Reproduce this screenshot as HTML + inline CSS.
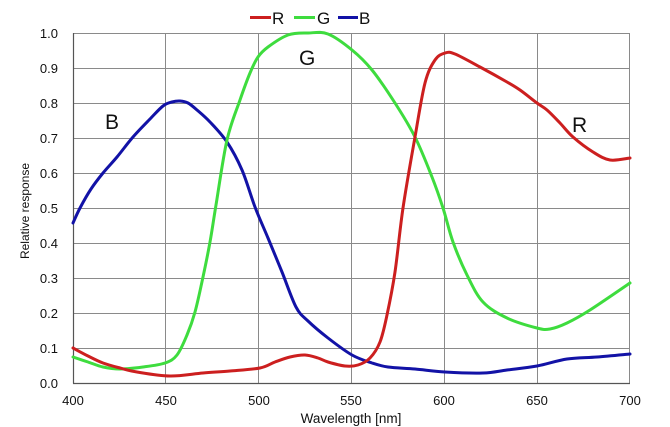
<!DOCTYPE html>
<html>
<head>
<meta charset="utf-8">
<style>
  html, body { margin:0; padding:0; background:#fff; }
  svg { display:block; }
  text { font-family: "Liberation Sans", Arial, sans-serif; fill:#111; }
</style>
</head>
<body>
<svg id="chart" width="670" height="427" viewBox="0 0 670 427" xmlns="http://www.w3.org/2000/svg">
  <rect x="0" y="0" width="670" height="427" fill="#fff"/>
  <!-- grid -->
  <g stroke="#8a8a8a" stroke-width="1" fill="none">
    <line x1="73" y1="33.5" x2="630" y2="33.5"/>
    <line x1="73" y1="68.5" x2="630" y2="68.5"/>
    <line x1="73" y1="103.5" x2="630" y2="103.5"/>
    <line x1="73" y1="138.5" x2="630" y2="138.5"/>
    <line x1="73" y1="173.5" x2="630" y2="173.5"/>
    <line x1="73" y1="208.5" x2="630" y2="208.5"/>
    <line x1="73" y1="243.5" x2="630" y2="243.5"/>
    <line x1="73" y1="278.5" x2="630" y2="278.5"/>
    <line x1="73" y1="313.5" x2="630" y2="313.5"/>
    <line x1="73" y1="348.5" x2="630" y2="348.5"/>
    <line x1="165.5" y1="33" x2="165.5" y2="383"/>
    <line x1="258.5" y1="33" x2="258.5" y2="383"/>
    <line x1="351.5" y1="33" x2="351.5" y2="383"/>
    <line x1="444.5" y1="33" x2="444.5" y2="383"/>
    <line x1="537.5" y1="33" x2="537.5" y2="383"/>
    <line x1="629.5" y1="33" x2="629.5" y2="383"/>
  </g>
  <g stroke="#555" stroke-width="1.2" fill="none">
    <line x1="73.5" y1="33" x2="73.5" y2="383.5"/>
    <line x1="73" y1="383.5" x2="630" y2="383.5"/>
  </g>

  <!-- curves -->
  <g id="curves" fill="none" stroke-width="3" stroke-linejoin="round" stroke-linecap="round">
    <polyline stroke="#1212a6" points="73,223 80,208 91,189 103,173 117,157 133,137 150,119 163,106 172,102 180,101 188,103 197,110 210,122 227,142 242,170 255,207 268,238 282,272 296,307 308,321 328,338 352,355 372,363 388,367 415,369 445,372 483,373 507,370 537,366 567,359 597,357 630,354"/>
    <polyline stroke="#3edc3e" points="73,357 88,362 103,367 120,369 143,367 165,363 177,355 187,335 195,312 203,277 210,242 216,205 227,140 240,100 250,73 258,57 268,47 288,35 308,33 328,34 352,50 372,70 395,103 415,137 432,177 443,208 453,242 467,275 483,302 507,318 537,328 550,329 567,323 590,310 630,283"/>
    <polyline stroke="#cc1f1f" points="73,348 88,356 103,363 120,368 137,372 170,376 203,373 230,371 260,368 275,362 290,357 305,355 318,358 328,362 345,366 358,365 370,358 380,342 387,315 395,272 403,208 415,137 425,83 435,60 445,53 455,54 480,67 507,82 520,90 537,103 547,110 560,123 573,137 593,152 610,160 630,158"/>
  </g>

  <!-- y tick labels -->
  <g font-size="13" text-anchor="end">
    <text x="58" y="38">1.0</text>
    <text x="58" y="73">0.9</text>
    <text x="58" y="108">0.8</text>
    <text x="58" y="143">0.7</text>
    <text x="58" y="178">0.6</text>
    <text x="58" y="213">0.5</text>
    <text x="58" y="248">0.4</text>
    <text x="58" y="283">0.3</text>
    <text x="58" y="318">0.2</text>
    <text x="58" y="353">0.1</text>
    <text x="58" y="388">0.0</text>
  </g>
  <!-- x tick labels -->
  <g font-size="13" text-anchor="middle">
    <text x="73" y="405">400</text>
    <text x="166" y="405">450</text>
    <text x="259" y="405">500</text>
    <text x="351" y="405">550</text>
    <text x="444" y="405">600</text>
    <text x="537" y="405">650</text>
    <text x="630" y="405">700</text>
  </g>
  <text x="351" y="423" font-size="13.5" text-anchor="middle">Wavelength [nm]</text>
  <text transform="translate(29,211) rotate(-90)" font-size="12" text-anchor="middle">Relative response</text>

  <!-- legend -->
  <g stroke-width="3">
    <line x1="250" y1="17.5" x2="271" y2="17.5" stroke="#cc1f1f"/>
    <line x1="294" y1="17.5" x2="315" y2="17.5" stroke="#3edc3e"/>
    <line x1="338" y1="17.5" x2="358" y2="17.5" stroke="#1212a6"/>
  </g>
  <g font-size="17">
    <text x="272" y="24">R</text>
    <text x="317" y="24">G</text>
    <text x="359" y="24">B</text>
  </g>

  <!-- annotations -->
  <g font-size="21">
    <text x="105" y="129">B</text>
    <text x="299" y="65">G</text>
    <text x="572" y="132">R</text>
  </g>
</svg>
<script>
(function(){
  var ns = "http://www.w3.org/2000/svg";
  var polys = document.querySelectorAll("#curves polyline");
  for (var i = 0; i < polys.length; i++) {
    var pl = polys[i];
    var raw = pl.getAttribute("points").trim().split(/\s+/);
    var p = raw.map(function(s){ var a = s.split(","); return [parseFloat(a[0]), parseFloat(a[1])]; });
    var d = "M" + p[0][0] + "," + p[0][1];
    for (var k = 0; k < p.length - 1; k++) {
      var p0 = p[k - 1] || p[k], p1 = p[k], p2 = p[k + 1], p3 = p[k + 2] || p[k + 1];
      var t = 1/6;
      var c1x = p1[0] + (p2[0] - p0[0]) * t, c1y = p1[1] + (p2[1] - p0[1]) * t;
      var c2x = p2[0] - (p3[0] - p1[0]) * t, c2y = p2[1] - (p3[1] - p1[1]) * t;
      d += " C" + c1x.toFixed(2) + "," + c1y.toFixed(2) + " " + c2x.toFixed(2) + "," + c2y.toFixed(2) + " " + p2[0] + "," + p2[1];
    }
    var path = document.createElementNS(ns, "path");
    path.setAttribute("d", d);
    path.setAttribute("stroke", pl.getAttribute("stroke"));
    pl.parentNode.replaceChild(path, pl);
  }
})();
</script>
</body>
</html>
